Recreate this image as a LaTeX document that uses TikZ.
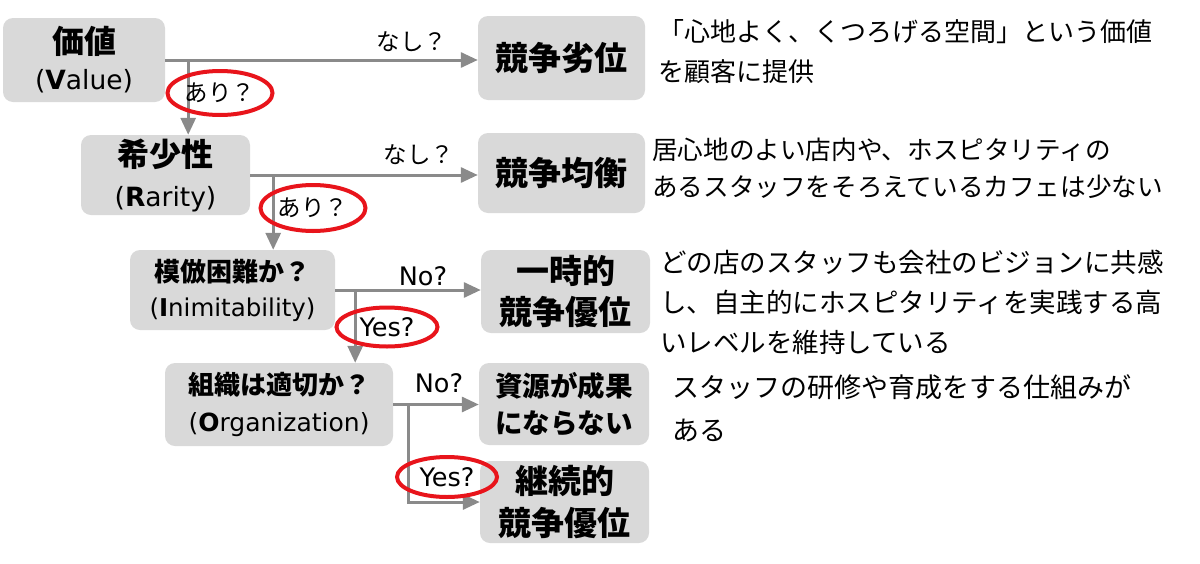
\documentclass[tikz,border=0pt]{standalone}
\usepackage{fontspec}
\setmainfont{Noto Sans CJK JP}
\newfontfamily\lat{DejaVu Sans}
\usetikzlibrary{arrows.meta,shapes.geometric}
\definecolor{boxgray}{HTML}{D9D9D9}
\definecolor{linegray}{HTML}{8A8A8A}
\definecolor{ovalred}{HTML}{E8141B}
\newcommand{\fs}[2]{\fontsize{#1}{#2}\selectfont}
\begin{document}
\begin{tikzpicture}[x=1pt,y=-1pt,
  box/.style={fill=boxgray, rounded corners=10pt, inner sep=0pt, align=center},
  conn/.style={draw=linegray, line width=3pt},
  arr/.style={conn, -{Triangle[length=17pt,width=15pt]}},
  oval/.style={ellipse, draw=ovalred, line width=4pt, inner sep=0pt},
  lbl/.style={inner sep=0pt},
  jlbl/.style={lbl, font=\fs{23.5}{28}},
  elbl/.style={lbl, font=\lat\fs{25.5}{30}},
  note/.style={anchor=west, align=left, inner sep=0pt}]
\useasboundingbox (0,0) rectangle (1200,563);

% left decision boxes
\node[box, minimum width=162pt, minimum height=84pt, font=\lat\fs{26.5}{36}] (v) at (84,60)
  {{\rmfamily\fs{32}{36}\bfseries 価値}\\(\textbf{V}alue)};
\node[box, minimum width=169pt, minimum height=80pt, font=\lat\fs{26.5}{40}] (r) at (165.5,175)
  {{\rmfamily\fs{32}{40}\bfseries 希少性}\\(\textbf{R}arity)};
\node[box, minimum width=205pt, minimum height=80pt, font=\lat\fs{24.5}{35}] (i) at (232.5,290)
  {{\rmfamily\fs{26}{35}\bfseries 模倣困難か？}\\(\textbf{I}nimitability)};
\node[box, minimum width=228pt, minimum height=83pt, font=\lat\fs{25}{37}] (o) at (279,404.5)
  {{\rmfamily\fs{26}{37}\bfseries 組織は適切か？}\\(\textbf{O}rganization)};

% right result boxes
\node[box, minimum width=167pt, minimum height=84pt, font=\fs{33}{40}\bfseries] (lose) at (561.5,58) {競争劣位};
\node[box, minimum width=167pt, minimum height=80pt, font=\fs{33}{40}\bfseries] (par) at (561.5,173) {競争均衡};
\node[box, minimum width=169pt, minimum height=83pt, font=\fs{33}{41}\bfseries] (temp) at (565.5,291.5) {一時的\\競争優位};
\node[box, minimum width=170pt, minimum height=82pt, font=\fs{27.5}{37}\bfseries] (res) at (564,404) {資源が成果\\にならない};
\node[box, minimum width=169pt, minimum height=82pt, font=\fs{33}{42}\bfseries] (sus) at (564.5,502) {継続的\\競争優位};

% branch points
\path (v.east) ++(23,0) coordinate (b1);
\path (r.east) ++(23,0) coordinate (b2);
\path (i.east) ++(20,0) coordinate (b3);
\path (o.east) ++(15,0) coordinate (b4);

% connectors
\draw[arr] (v.east) -- (v.east -| lose.west);
\draw[arr] (b1) -- (b1 |- r.north);
\draw[arr] (r.east) -- (r.east -| par.west);
\draw[arr] (b2) -- (b2 |- i.north);
\draw[arr] (i.east) -- (i.east -| temp.west);
\draw[arr] (b3) -- (b3 |- o.north);
\draw[arr] (o.east) -- (o.east -| res.west);
\draw[arr] (b4) |- (sus.west);

% branch labels
\node[jlbl] (nl1) at (412,42) {なし？};
\node[jlbl] (nl2) at (419,155) {なし？};
\node[elbl] (no1) at (423,276) {No?};
\node[elbl] (no2) at (439,383) {No?};
\node[oval, jlbl, minimum width=105pt, minimum height=44pt] (y1) at (220,93) {あり？};
\node[oval, jlbl, minimum width=105pt, minimum height=46pt] (y2) at (313,208) {あり？};
\node[oval, elbl, minimum width=101pt, minimum height=39pt] (y3) at (387,327) {Yes?};
\node[oval, elbl, minimum width=100pt, minimum height=40pt] (y4) at (447,477) {Yes?};

% notes
\node[note, font=\fs{26}{40}] (n1) at (658,52) {「心地よく、くつろげる空間」という価値\\を顧客に提供};
\node[note, font=\fs{25.6}{37.5}] (n2) at (652,168.5) {居心地のよい店内や、ホスピタリティの\\あるスタッフをそろえているカフェは少ない};
\node[note, font=\fs{26.5}{40}] (n3) at (660,302) {どの店のスタッフも会社のビジョンに共感\\し、自主的にホスピタリティを実践する高\\いレベルを維持している};
\node[note, font=\fs{27}{43}] (n4) at (672,408) {スタッフの研修や育成をする仕組みが\\ある};
\end{tikzpicture}
\end{document}
